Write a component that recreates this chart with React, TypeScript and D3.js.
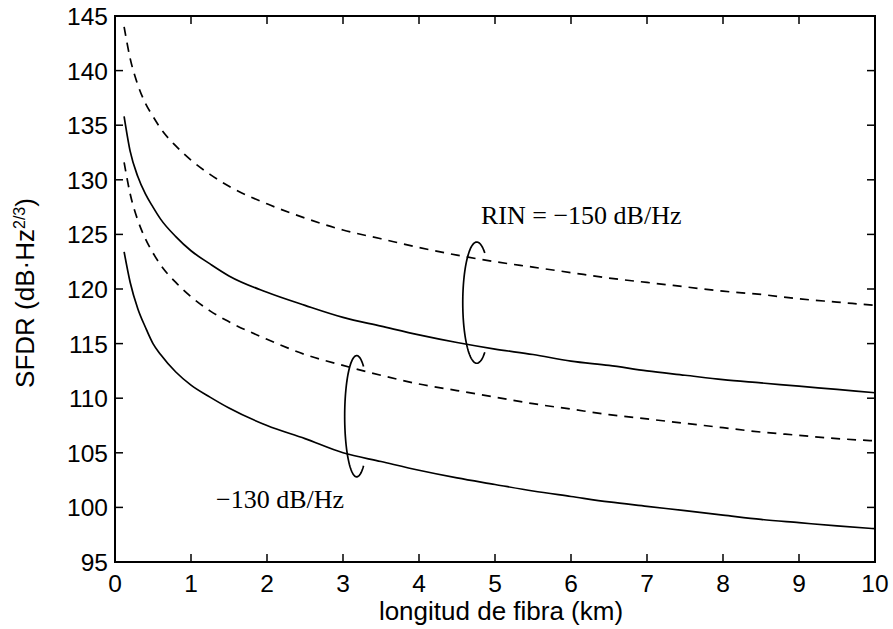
import React from "react";
import * as d3 from "d3";

const fiberKm = [0.12, 0.2, 0.3, 0.4, 0.5, 0.6, 0.8, 1, 1.25, 1.5, 2, 2.5, 3, 3.5, 4, 4.5, 5, 5.5, 6, 6.5, 7, 7.5, 8, 8.5, 9, 9.5, 10];

const rin150Dashed = [144.0, 141.1, 138.7, 137.0, 135.8, 134.7, 133.1, 131.8, 130.5, 129.4, 127.8, 126.5, 125.4, 124.6, 123.8, 123.1, 122.5, 122.0, 121.5, 121.0, 120.6, 120.2, 119.8, 119.5, 119.1, 118.8, 118.5];
const rin150Solid = [135.8, 132.6, 130.3, 128.7, 127.5, 126.4, 124.8, 123.5, 122.3, 121.2, 119.7, 118.5, 117.4, 116.6, 115.8, 115.1, 114.5, 114.0, 113.4, 113.0, 112.5, 112.1, 111.7, 111.4, 111.1, 110.8, 110.5];
const rin130Dashed = [131.6, 128.7, 126.3, 124.6, 123.3, 122.2, 120.6, 119.3, 118.0, 117.0, 115.4, 114.0, 113.0, 112.1, 111.3, 110.7, 110.1, 109.5, 109.0, 108.5, 108.1, 107.7, 107.3, 106.9, 106.6, 106.3, 106.1];
const rin130Solid = [123.4, 120.6, 118.2, 116.5, 115.0, 114.0, 112.4, 111.2, 110.1, 109.1, 107.5, 106.3, 105.0, 104.2, 103.4, 102.7, 102.1, 101.5, 101.0, 100.5, 100.1, 99.7, 99.3, 98.9, 98.6, 98.3, 98.05];

const xTicks = [0, 1, 2, 3, 4, 5, 6, 7, 8, 9, 10];
const yTicks = [95, 100, 105, 110, 115, 120, 125, 130, 135, 140, 145];

// ellipse annotations: [centerX, topY, bottomY] in data units
const ellipseUpper = [4.76, 124.3, 113.2];
const ellipseLower = [3.18, 113.9, 102.8];

const W = 893;
const H = 629;
const M = { left: 115, right: 875, top: 16, bottom: 562 };

export default function App() {
  const x = d3.scaleLinear().domain([0, 10]).range([M.left, M.right]);
  const y = d3.scaleLinear().domain([95, 145]).range([M.bottom, M.top]);

  const line = (vals: number[]) =>
    d3
      .line<number>()
      .x((_, i) => x(fiberKm[i]))
      .y((v) => y(v))
      .curve(d3.curveMonotoneX)(vals) || "";

  const series = [
    { vals: rin150Dashed, dash: "9,7" },
    { vals: rin150Solid, dash: null },
    { vals: rin130Dashed, dash: "9,7" },
    { vals: rin130Solid, dash: null },
  ];

  const ellipsePath = (e: number[], rx: number) => {
    const cx = x(e[0]);
    const cy = (y(e[1]) + y(e[2])) / 2;
    const ry = (y(e[2]) - y(e[1])) / 2;
    const pts: [number, number][] = [];
    const a0 = (-55 * Math.PI) / 180;
    const a1 = (-305 * Math.PI) / 180;
    for (let i = 0; i <= 90; i++) {
      const a = a0 + ((a1 - a0) * i) / 90;
      pts.push([cx + rx * Math.cos(a), cy + ry * Math.sin(a)]);
    }
    return d3.line()(pts) || "";
  };

  const tickLen = 8;
  const sans = "'Liberation Sans', Arial, Helvetica, sans-serif";
  const serif = "'Liberation Serif', 'Times New Roman', serif";

  return (
    <svg width={W} height={H} style={{ position: "absolute", left: 0, top: 0, background: "#fff" }}>
      <rect x={0} y={0} width={W} height={H} fill="#fff" />
      {series.map((s, i) => (
        <path
          key={i}
          d={line(s.vals)}
          fill="none"
          stroke="#000"
          strokeWidth={1.7}
          strokeDasharray={s.dash || undefined}
        />
      ))}
      <path d={ellipsePath(ellipseUpper, 14)} fill="none" stroke="#000" strokeWidth={1.7} />
      <path d={ellipsePath(ellipseLower, 12)} fill="none" stroke="#000" strokeWidth={1.7} />
      {/* frame */}
      <rect
        x={M.left}
        y={M.top}
        width={M.right - M.left}
        height={M.bottom - M.top}
        fill="none"
        stroke="#000"
        strokeWidth={2}
      />
      {xTicks.map((t) => (
        <g key={"x" + t}>
          <line x1={x(t)} x2={x(t)} y1={M.bottom} y2={M.bottom - tickLen} stroke="#000" strokeWidth={1.5} />
          <line x1={x(t)} x2={x(t)} y1={M.top} y2={M.top + tickLen} stroke="#000" strokeWidth={1.5} />
          <text x={x(t)} y={M.bottom + 30} textAnchor="middle" fontFamily={sans} fontSize={24.5}>
            {t}
          </text>
        </g>
      ))}
      {yTicks.map((t) => (
        <g key={"y" + t}>
          <line x1={M.left} x2={M.left + tickLen} y1={y(t)} y2={y(t)} stroke="#000" strokeWidth={1.5} />
          <line x1={M.right} x2={M.right - tickLen} y1={y(t)} y2={y(t)} stroke="#000" strokeWidth={1.5} />
          <text x={M.left - 7} y={y(t) + 9} textAnchor="end" fontFamily={sans} fontSize={24.5}>
            {t}
          </text>
        </g>
      ))}
      <text x={(M.left + M.right) / 2 + 6} y={620} textAnchor="middle" fontFamily={sans} fontSize={26}>
        longitud de fibra (km)
      </text>
      <text
        transform={`translate(34, ${(M.top + M.bottom) / 2 + 4}) rotate(-90)`}
        textAnchor="middle"
        fontFamily={sans}
        fontSize={26}
      >
        SFDR (dB·Hz<tspan dy={-9} fontSize={16}>2/3</tspan>
        <tspan dy={9}>)</tspan>
      </text>
      <text x={481} y={224} fontFamily={serif} fontSize={26}>
        RIN = −150 dB/Hz
      </text>
      <text x={216} y={508} fontFamily={serif} fontSize={26}>
        −130 dB/Hz
      </text>
    </svg>
  );
}
